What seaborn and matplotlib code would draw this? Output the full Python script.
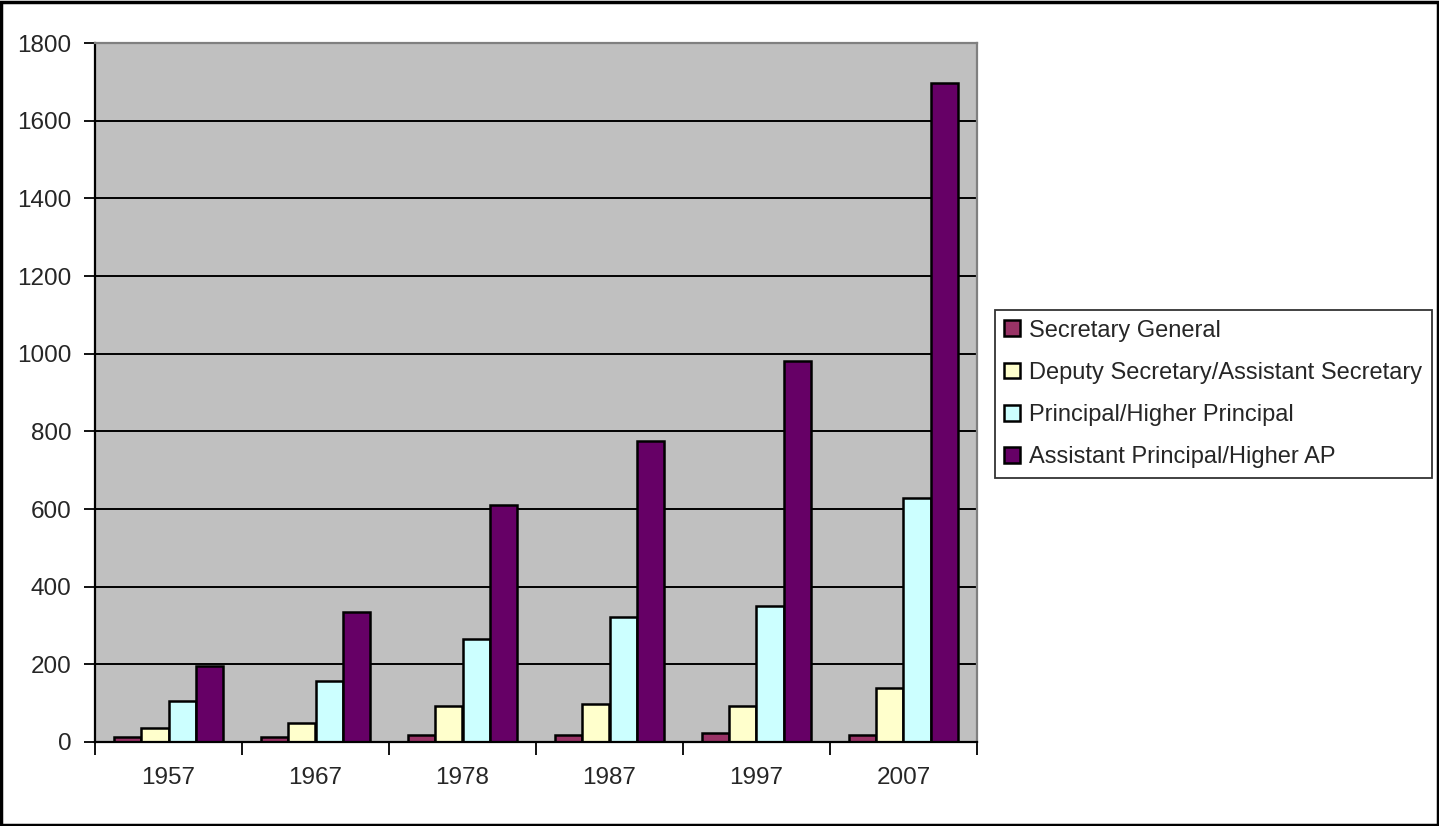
"""
Grade counts by year - grouped bar chart
"""

import matplotlib
matplotlib.use("Agg")
import matplotlib.pyplot as plt
from matplotlib.patches import Rectangle
import seaborn as sns
import pandas as pd

years = ["1957", "1967", "1978", "1987", "1997", "2007"]
grades = [
    "Secretary General",
    "Deputy Secretary/Assistant Secretary",
    "Principal/Higher Principal",
    "Assistant Principal/Higher AP",
]
secretary_general = [13, 13, 19, 19, 23, 19]
deputy_assistant = [37, 50, 92, 97, 92, 140]
principal = [106, 157, 265, 321, 350, 628]
assistant_principal = [195, 336, 610, 775, 982, 1698]
colors = ["#993366", "#FFFFCC", "#CCFFFF", "#660066"]

series = [secretary_general, deputy_assistant, principal, assistant_principal]
rows = []
for grade, vals in zip(grades, series):
    for yr, v in zip(years, vals):
        rows.append({"year": yr, "grade": grade, "count": v})
df = pd.DataFrame(rows)

sns.set_style("white")
plt.rcParams["font.family"] = ["Liberation Sans", "DejaVu Sans"]

fig = plt.figure(figsize=(14.39, 8.26), dpi=100)
ax = fig.add_axes([95 / 1439, 1 - 742 / 826, (977 - 95) / 1439, (742 - 43) / 826])
ax.set_facecolor("#C0C0C0")

sns.barplot(data=df, x="year", y="count", hue="grade", hue_order=grades,
            palette=colors, saturation=1, width=0.74, edgecolor="black",
            linewidth=1.8, ax=ax)

ax.set_ylim(0, 1800)
ax.set_xlim(-0.5, len(years) - 0.5)
ax.set_yticks(range(0, 1801, 200))
ax.yaxis.grid(True, color="black", linewidth=1.4)
ax.xaxis.grid(False)
ax.set_axisbelow(True)
ax.set_xlabel("")
ax.set_ylabel("")

ax.tick_params(axis="y", which="major", direction="out", length=8, width=1.3,
               color="black", labelsize=17.5, pad=9, left=True)
ax.set_xticks(range(len(years)))
ax.set_xticklabels(years)
ax.set_xticks([i - 0.5 for i in range(len(years) + 1)], minor=True)
ax.tick_params(axis="x", which="major", length=0, labelsize=17.5, pad=18)
ax.tick_params(axis="x", which="minor", direction="out", length=9, width=1.3,
               color="black", bottom=True)

for side in ["left", "bottom"]:
    ax.spines[side].set_color("black")
    ax.spines[side].set_linewidth(1.6)
for side in ["top", "right"]:
    ax.spines[side].set_color("#808080")
    ax.spines[side].set_linewidth(1.6)

handles, labels = ax.get_legend_handles_labels()
ax.get_legend().remove()
leg = fig.legend(handles, labels, loc="center left",
                 bbox_to_anchor=(995 / 1439, 1 - 394 / 826),
                 fontsize=17, frameon=True, fancybox=False,
                 handlelength=0.64, handleheight=0.64, handletextpad=0.4,
                 labelspacing=0.86, borderpad=0.4, borderaxespad=0)
leg.get_frame().set_edgecolor("black")
leg.get_frame().set_linewidth(1.3)

# outer border
fig.patches.append(Rectangle((0.001, 0.001), 0.998, 0.997, transform=fig.transFigure,
                             fill=False, edgecolor="black", linewidth=2.5))

fig.savefig("out.png", dpi=100)
